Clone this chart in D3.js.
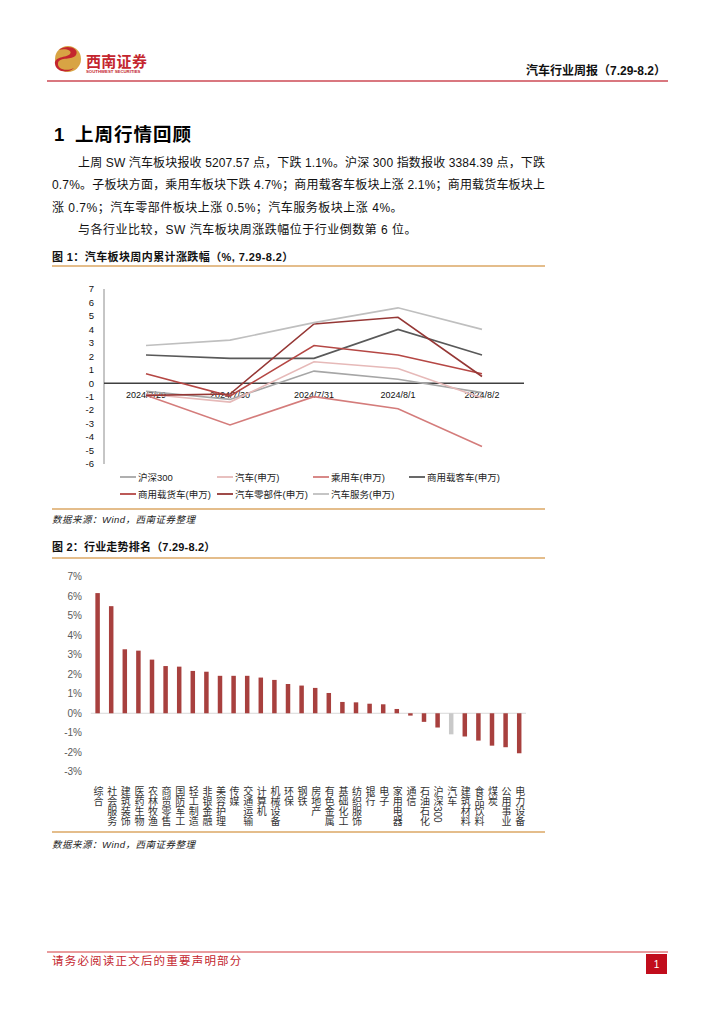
<!DOCTYPE html>
<html><head><meta charset="utf-8">
<script src="https://cdn.jsdelivr.net/npm/d3@7"></script>
<style>
body{margin:0;background:#fff}
text{font-family:"Liberation Sans","Noto Sans CJK SC",sans-serif}
</style>
</head><body><svg id="c" width="724" height="1024"></svg>
<script>
// ---------- data: figure 1 ----------
const dates = ["2024/7/29","2024/7/30","2024/7/31","2024/8/1","2024/8/2"];
const seriesNames = ["沪深300","汽车(申万)","乘用车(申万)","商用载客车(申万)","商用载货车(申万)","汽车零部件(申万)","汽车服务(申万)"];
const hs300     = [-0.6, -1.2, 0.9, 0.3, -0.7];
const autoSW    = [-0.8, -1.4, 1.6, 1.1, -1.1];
const passenger = [-0.9, -3.1, -1.0, -1.9, -4.7];
const bus       = [2.1, 1.85, 1.85, 4.0, 2.1];
const truck     = [0.7, -0.95, 2.8, 2.1, 0.7];
const parts     = [-0.9, -0.8, 4.4, 4.9, 0.5];
const service   = [2.8, 3.2, 4.5, 5.6, 4.0];
const yTicks1   = [7,6,5,4,3,2,1,0,-1,-2,-3,-4,-5,-6];
const lineColors = ["#a6a6a6","#e6b9b8","#d47c7b","#595959","#b54744","#953735","#bfbfbf"];

// ---------- data: figure 2 ----------
const industries = ["综合","社会服务","建筑装饰","医药生物","农林牧渔","商贸零售","国防军工","轻工制造","非银金融","美容护理","传媒","交通运输","计算机","机械设备","环保","钢铁","房地产","有色金属","基础化工","纺织服饰","银行","电子","家用电器","通信","石油石化","沪深300","汽车","建筑材料","食品饮料","煤炭","公用事业","电力设备"];
const weekChange = [6.16,5.49,3.28,3.21,2.75,2.42,2.39,2.17,2.13,1.92,1.92,1.92,1.83,1.71,1.50,1.42,1.30,1.04,0.58,0.56,0.49,0.46,0.22,-0.12,-0.44,-0.73,-1.08,-1.19,-1.40,-1.66,-1.74,-2.05];
const yTicks2 = [7,6,5,4,3,2,1,0,-1,-2,-3];

const svg = d3.select("#c");
svg.append("rect").attr("width",724).attr("height",1024).attr("fill","#fff");

// ---------- header ----------
const logo = svg.append("g");
logo.append("circle").attr("cx",68).attr("cy",59).attr("r",13).attr("fill","#d8a444");
logo.append("path").attr("d","M59,50 C66,44 80,48 76,55 C72,61 60,56 58,63 C57,69 66,72 74,68 C68,74 56,72 55,64 C54,56 66,58 70,54 C73,50 64,48 59,50Z").attr("fill","#c4262e");
svg.append("text").attr("x",86).attr("y",67).attr("font-size",15).attr("font-weight","bold").attr("fill","#c4262e").attr("letter-spacing",0.3).text("西南证券");
svg.append("text").attr("x",86).attr("y",73).attr("font-size",4.3).attr("font-weight","bold").attr("fill","#c4262e").text("SOUTHWEST SECURITIES");
svg.append("text").attr("x",666).attr("y",75).attr("text-anchor","end").attr("font-size",12).attr("font-weight","bold").attr("fill","#111").text("汽车行业周报（7.29-8.2）");
svg.append("line").attr("x1",47).attr("x2",668).attr("y1",81).attr("y2",81).attr("stroke","#d9777f").attr("stroke-width",2);

// ---------- section text ----------
svg.append("text").attr("x",54).attr("y",141).attr("font-size",18.5).attr("font-weight","bold").attr("fill","#000").text("1");
svg.append("text").attr("x",75).attr("y",141).attr("font-size",18.5).attr("font-weight","bold").attr("letter-spacing",1).attr("fill","#000").text("上周行情回顾");
const bodyLines = [
  {x:78, y:167, w:467, t:"上周 SW 汽车板块报收 5207.57 点，下跌 1.1%。沪深 300 指数报收 3384.39 点，下跌"},
  {x:52, y:189, w:493, t:"0.7%。子板块方面，乘用车板块下跌 4.7%；商用载客车板块上涨 2.1%；商用载货车板块上"},
  {x:52, y:212, w:null, t:"涨 0.7%；汽车零部件板块上涨 0.5%；汽车服务板块上涨 4%。"},
  {x:78, y:234, w:null, t:"与各行业比较，SW 汽车板块周涨跌幅位于行业倒数第 6 位。"}
];
bodyLines.forEach(l=>{
  const t = svg.append("text").attr("x",l.x).attr("y",l.y).attr("font-size",12).attr("fill","#111").text(l.t);
  if (l.w) t.attr("textLength",l.w).attr("lengthAdjust","spacing");
  else t.attr("letter-spacing",0.5);
});

// ---------- figure 1 ----------
svg.append("text").attr("x",52).attr("y",261).attr("font-size",11).attr("font-weight","bold").attr("letter-spacing",0.4).attr("fill","#111").text("图 1：汽车板块周内累计涨跌幅（%, 7.29-8.2）");
svg.append("line").attr("x1",52).attr("x2",545).attr("y1",266).attr("y2",266).attr("stroke","#dba764").attr("stroke-width",1.5);

const x1 = d3.scaleBand().domain(dates).range([104,524]);
const y1 = d3.scaleLinear().domain([-6,7]).range([464,289]);
const g1 = svg.append("g");
g1.append("line").attr("x1",104).attr("x2",104).attr("y1",y1(7)).attr("y2",y1(-6)).attr("stroke","#8c8c8c").attr("stroke-width",1);
yTicks1.forEach(v=>{
  g1.append("text").attr("x",94).attr("y",y1(v)+3.3).attr("text-anchor","end").attr("font-size",9.5).attr("fill","#111").text(v);
});
dates.forEach(d=>{
  g1.append("text").attr("x",x1(d)+x1.bandwidth()/2).attr("y",y1(0)+15).attr("text-anchor","middle").attr("font-size",9).attr("fill","#111").text(d);
});
g1.append("line").attr("x1",104).attr("x2",524).attr("y1",y1(0)).attr("y2",y1(0)).attr("stroke","#404040").attr("stroke-width",1.6);
const allSeries = [hs300,autoSW,passenger,bus,truck,parts,service];
const lineGen = d3.line().x((v,i)=>x1(dates[i])+x1.bandwidth()/2).y(v=>y1(v));
allSeries.forEach((s,i)=>{
  g1.append("path").attr("d",lineGen(s)).attr("fill","none").attr("stroke",lineColors[i]).attr("stroke-width",1.6);
});
// legend
const legPos = [[120,477],[217,477],[313,477],[409,477],[120,494],[217,494],[313,494]];
seriesNames.forEach((n,i)=>{
  const [lx,ly] = legPos[i];
  g1.append("line").attr("x1",lx).attr("x2",lx+16).attr("y1",ly).attr("y2",ly).attr("stroke",lineColors[i]).attr("stroke-width",1.8);
  g1.append("text").attr("x",lx+18).attr("y",ly+3.5).attr("font-size",9.5).attr("fill","#222").text(n);
});
svg.append("line").attr("x1",52).attr("x2",545).attr("y1",509).attr("y2",509).attr("stroke","#dba764").attr("stroke-width",1.5);
svg.append("text").attr("x",52).attr("y",523).attr("font-size",9.5).attr("letter-spacing",0.5).attr("font-style","italic").attr("fill","#222").text("数据来源：Wind，西南证券整理");

// ---------- figure 2 ----------
svg.append("text").attr("x",52).attr("y",551).attr("font-size",11).attr("font-weight","bold").attr("letter-spacing",0.2).attr("fill","#111").text("图 2：行业走势排名（7.29-8.2）");
svg.append("line").attr("x1",52).attr("x2",545).attr("y1",558).attr("y2",558).attr("stroke","#dba764").attr("stroke-width",1.5);

const x2 = d3.scaleBand().domain(industries).range([90.8,526]).paddingInner(0.67).paddingOuter(0.335);
const y2 = d3.scaleLinear().domain([-3,7]).range([771.8,576.7]);
const g2 = svg.append("g");
yTicks2.forEach(v=>{
  g2.append("text").attr("x",82).attr("y",y2(v)+3.5).attr("text-anchor","end").attr("font-size",10).attr("fill","#595959").text(v+"%");
});
g2.append("line").attr("x1",90.8).attr("x2",526).attr("y1",y2(0)).attr("y2",y2(0)).attr("stroke","#d9d9d9").attr("stroke-width",1);
industries.forEach((n,i)=>{
  const v = weekChange[i];
  g2.append("rect").attr("x",x2(n)).attr("width",x2.bandwidth())
    .attr("y",y2(Math.max(v,0))).attr("height",Math.abs(y2(v)-y2(0)))
    .attr("fill", n==="汽车" ? "#c9c9c9" : "#a8403e");
  g2.append("text").attr("x",x2(n)+x2.bandwidth()/2).attr("y",786)
    .attr("style","writing-mode:vertical-rl;text-orientation:mixed")
    .attr("font-size",10).attr("fill","#333").text(n);
});
svg.append("line").attr("x1",52).attr("x2",545).attr("y1",832).attr("y2",832).attr("stroke","#dba764").attr("stroke-width",1.5);
svg.append("text").attr("x",52).attr("y",848).attr("font-size",9.5).attr("letter-spacing",0.5).attr("font-style","italic").attr("fill","#222").text("数据来源：Wind，西南证券整理");

// ---------- footer ----------
svg.append("line").attr("x1",47).attr("x2",668).attr("y1",952).attr("y2",952).attr("stroke","#d33a3f").attr("stroke-width",1.2);
svg.append("text").attr("x",52).attr("y",965).attr("font-size",11.5).attr("letter-spacing",1.2).attr("fill","#c4262e").text("请务必阅读正文后的重要声明部分");
svg.append("rect").attr("x",646).attr("y",954).attr("width",21).attr("height",20).attr("fill","#c10d1c");
svg.append("text").attr("x",656.5).attr("y",968).attr("text-anchor","middle").attr("font-size",10).attr("fill","#fff").text("1");
</script></body></html>
